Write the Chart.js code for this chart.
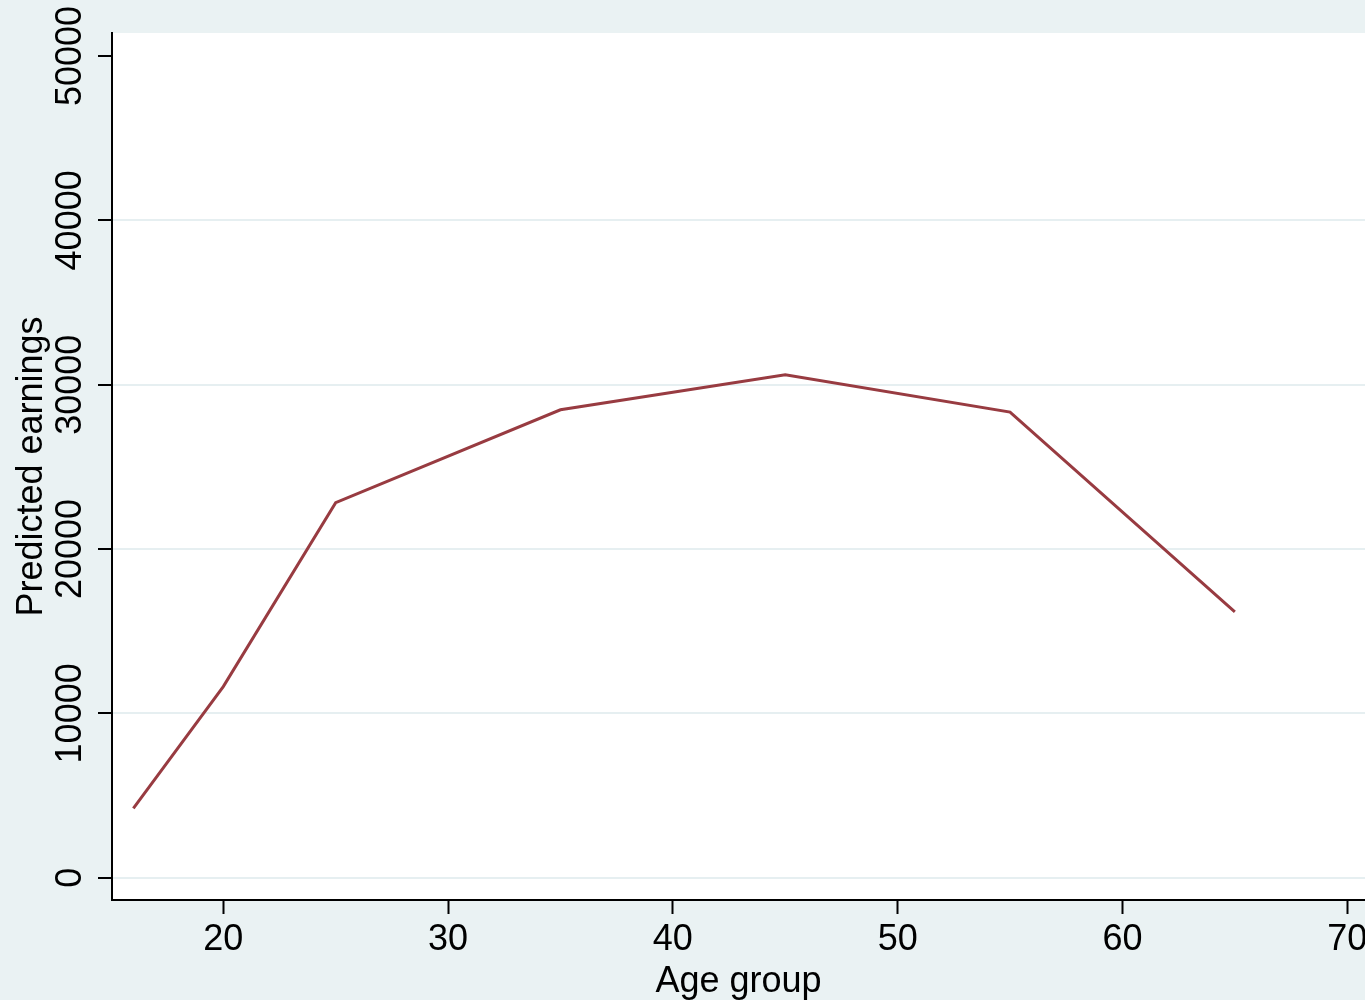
<!DOCTYPE html>
<html>
<head>
<meta charset="utf-8">
<script src="https://cdn.jsdelivr.net/npm/chart.js@4/dist/chart.umd.min.js"></script>
<style>
  html, body { margin: 0; padding: 0; background: #eaf2f3; }
  #c { display: block; }
</style>
</head>
<body>
<canvas id="c" width="1365" height="1000"></canvas>
<script>
// ---- data ----
const ageGroups = [16, 20, 25, 35, 45, 55, 65];
const predictedEarnings = [4220, 11630, 22820, 28470, 30600, 28330, 16170];
const xTicks = [20, 30, 40, 50, 60, 70];
const yTicks = [0, 10000, 20000, 30000, 40000, 50000];
const yTickLabels = ['0', '10000', '20000', '30000', '40000', '50000'];
const xTitle = 'Age group';
const yTitle = 'Predicted earnings';

const FONT = "'Liberation Sans', Arial, Helvetica, sans-serif";
const BG = '#eaf2f3';

const bgPlugin = {
  id: 'bgPlugin',
  beforeDraw(chart) {
    const { ctx, chartArea: a } = chart;
    ctx.save();
    ctx.fillStyle = BG;
    ctx.fillRect(0, 0, chart.width, chart.height);
    ctx.fillStyle = '#ffffff';
    ctx.fillRect(a.left, a.top, a.right - a.left, a.bottom - a.top);
    ctx.restore();
  }
};

const yLabelPlugin = {
  id: 'yLabelPlugin',
  afterDraw(chart) {
    const s = chart.scales.y;
    const ctx = chart.ctx;
    ctx.save();
    ctx.fillStyle = '#000';
    ctx.font = '36px ' + FONT;
    ctx.textAlign = 'center';
    ctx.textBaseline = 'alphabetic';
    s.ticks.forEach((t) => {
      const y = s.getPixelForValue(t.value);
      ctx.save();
      ctx.translate(81, y);
      ctx.rotate(-Math.PI / 2);
      ctx.fillText(yTickLabels[yTicks.indexOf(t.value)], 0, 0);
      ctx.restore();
    });
    // y axis title
    ctx.save();
    ctx.translate(42, (chart.chartArea.top + chart.chartArea.bottom) / 2);
    ctx.rotate(-Math.PI / 2);
    ctx.fillText(yTitle, 0, 0);
    ctx.restore();
    ctx.restore();
  }
};

new Chart(document.getElementById('c'), {
  type: 'line',
  data: {
    datasets: [{
      data: ageGroups.map((a, i) => ({ x: a, y: predictedEarnings[i] })),
      borderColor: '#983b41',
      borderWidth: 3,
      pointRadius: 0,
      tension: 0,
      fill: false
    }]
  },
  options: {
    responsive: false,
    animation: false,
    devicePixelRatio: 1,
    layout: { padding: { top: 33, left: 0, right: 0, bottom: 0 } },
    plugins: { legend: { display: false }, tooltip: { enabled: false } },
    scales: {
      x: {
        type: 'linear',
        min: 15.05,
        max: 70.79,
        afterBuildTicks: s => { s.ticks = xTicks.map(v => ({ value: v })); },
        afterFit: s => { s.height = 100; s.paddingLeft = 0; s.paddingRight = 0; },
        ticks: {
          color: '#000',
          font: { family: FONT, size: 36 },
          padding: 4,
          maxRotation: 0,
          minRotation: 0,
          autoSkip: false,
          callback: v => String(v)
        },
        grid: {
          drawOnChartArea: false,
          drawTicks: true,
          tickLength: 14,
          tickColor: '#000',
          tickWidth: 2,
          color: 'rgba(0,0,0,0)'
        },
        border: { display: true, color: '#000', width: 2 },
        title: {
          display: true,
          text: xTitle,
          color: '#000',
          font: { family: FONT, size: 36 },
          padding: { top: 0, bottom: -4 }
        }
      },
      y: {
        type: 'linear',
        min: -1357,
        max: 51400,
        afterBuildTicks: s => { s.ticks = yTicks.map(v => ({ value: v })); },
        afterFit: s => { s.width = 112; s.paddingTop = 0; s.paddingBottom = 0; },
        ticks: { display: false, callback: v => String(v) },
        grid: {
          drawOnChartArea: true,
          drawTicks: true,
          tickLength: 14,
          tickColor: '#000',
          tickWidth: 2,
          lineWidth: 2,
          color: c => (c.tick && c.tick.value === 50000) ? 'rgba(0,0,0,0)' : '#e6eff1'
        },
        border: { display: true, color: '#000', width: 2 }
      }
    }
  },
  plugins: [bgPlugin, yLabelPlugin]
});
</script>
</body>
</html>
